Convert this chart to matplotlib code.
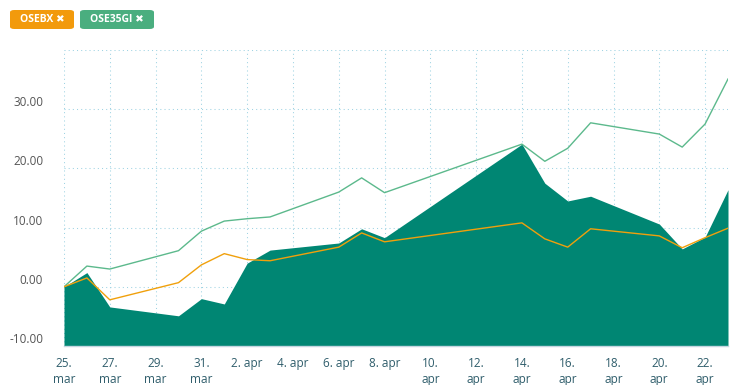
import numpy as np
import pandas as pd
import matplotlib
matplotlib.use("Agg")
import matplotlib.pyplot as plt
import matplotlib.dates as mdates
from matplotlib.patches import FancyBboxPatch

plt.rcParams['font.family'] = ['Open Sans', 'DejaVu Sans']

# trading days (2020)
dates = ['2020-03-25', '2020-03-26', '2020-03-27', '2020-03-30', '2020-03-31',
         '2020-04-01', '2020-04-02', '2020-04-03', '2020-04-06', '2020-04-07',
         '2020-04-08', '2020-04-14', '2020-04-15', '2020-04-16', '2020-04-17',
         '2020-04-20', '2020-04-21', '2020-04-22', '2020-04-23']

# percent change series
stock = [0, 2.4, -3.4, -4.9, -2.0, -2.9, 4.0, 6.2, 7.4, 9.8,
         8.3, 24.1, 17.5, 14.5, 15.3, 10.6, 6.4, 8.4, 16.4]
osebx = [0, 1.5, -2.2, 0.7, 3.7, 5.6, 4.6, 4.4, 6.7, 9.1,
         7.6, 10.8, 8.1, 6.7, 9.8, 8.6, 6.6, 8.3, 9.9]
ose35gi = [0, 3.5, 3.0, 6.1, 9.4, 11.1, 11.5, 11.8, 16.0, 18.4,
           15.9, 24.1, 21.2, 23.4, 27.7, 25.8, 23.6, 27.5, 35.1]

tick_dates = ['2020-03-25', '2020-03-27', '2020-03-29', '2020-03-31',
              '2020-04-02', '2020-04-04', '2020-04-06', '2020-04-08',
              '2020-04-10', '2020-04-12', '2020-04-14', '2020-04-16',
              '2020-04-18', '2020-04-20', '2020-04-22']
tick_labels = ['25.\nmar', '27.\nmar', '29.\nmar', '31.\nmar',
               '2. apr', '4. apr', '6. apr', '8. apr',
               '10.\napr', '12.\napr', '14.\napr', '16.\napr',
               '18.\napr', '20.\napr', '22.\napr']
y_ticks = [-10, 0, 10, 20, 30, 40]
y_labels = ['-10.00', '0.00', '10.00', '20.00', '30.00', '']

legend_names = ['OSEBX \u2716', 'OSE35GI \u2716']

C_AREA = '#008673'
C_GREEN = '#5cb98c'
C_ORANGE = '#f0a00c'
BTN_ORANGE = '#f29a0c'
BTN_GREEN = '#4aae7f'

x = mdates.date2num(pd.to_datetime(dates))
xt = mdates.date2num(pd.to_datetime(tick_dates))

fig = plt.figure(figsize=(7.35, 3.85), dpi=100)
W, H = 735, 385
ax = fig.add_axes([64 / W, 1 - 346 / H, (728 - 64) / W, (346 - 50) / H])

ax.fill_between(x, stock, -10, color=C_AREA, lw=0, zorder=2)
ax.plot(x, ose35gi, color=C_GREEN, lw=1.0, zorder=3)
ax.plot(x, osebx, color=C_ORANGE, lw=1.0, zorder=4)

ax.set_xlim(x[0], x[-1])
ax.set_ylim(-10, 40)

ax.set_xticks(xt)
ax.set_xticklabels(tick_labels, fontsize=8.5, color='#2f5d6b', linespacing=1.25)
ax.set_yticks(y_ticks)
ax.set_yticklabels(y_labels, fontsize=8.5, color='#555555')
for lab in ax.get_yticklabels():
    lab.set_va('bottom')
ax.tick_params(axis='x', length=0, pad=8)
ax.tick_params(axis='y', length=0, pad=15)

# dotted light-blue grid
ax.grid(True, color='#9fd3e3', lw=0.75, linestyle=(0, (1, 3)), zorder=1)
ax.set_axisbelow(True)
for s in ['top', 'right', 'left']:
    ax.spines[s].set_visible(False)
ax.spines['bottom'].set_color('#c5d6e0')
ax.spines['bottom'].set_linewidth(1.0)

# legend buttons
buttons = [(10, 74, BTN_ORANGE), (80, 154, BTN_GREEN)]
for (x0, x1, col), name in zip(buttons, legend_names):
    y0, y1 = 10, 29
    box = FancyBboxPatch((x0 / W, 1 - y1 / H), (x1 - x0) / W, (y1 - y0) / H,
                         boxstyle='round,pad=0,rounding_size=0.006',
                         transform=fig.transFigure, fc=col, ec='none')
    fig.patches.append(box)
    fig.text((x0 + x1) / 2 / W, 1 - (y0 + y1) / 2 / H, name,
             ha='center', va='center', color='white', fontsize=7.5,
             fontweight='bold', family=['Open Sans', 'DejaVu Sans'])

fig.savefig('out.png', dpi=100)
